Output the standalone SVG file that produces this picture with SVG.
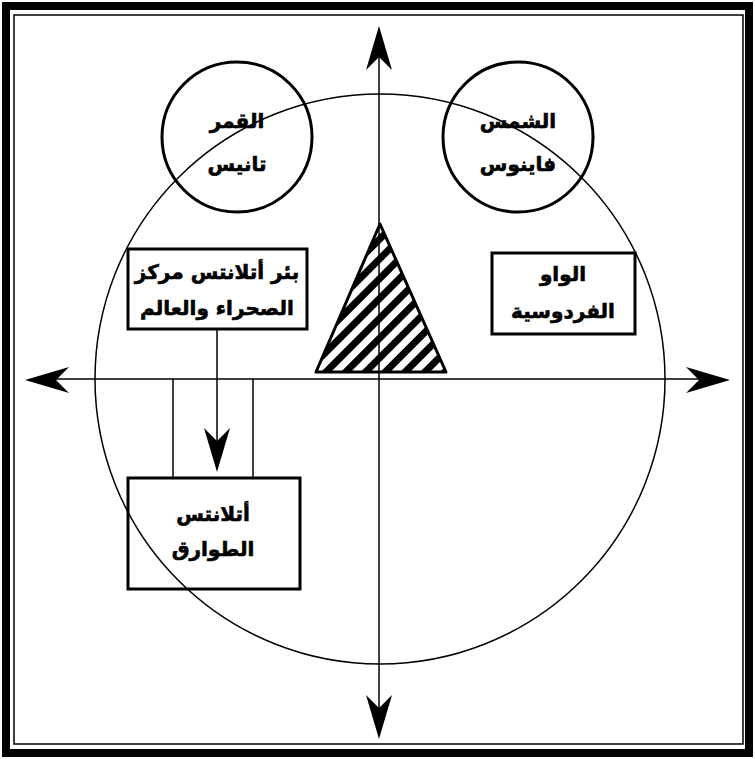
<svg xmlns="http://www.w3.org/2000/svg" xmlns:xlink="http://www.w3.org/1999/xlink" width="755" height="759" viewBox="0 0 755 759">
<style>
.lbl{font-family:"DejaVu Sans",sans-serif;font-weight:bold;font-size:20px;fill:#000;stroke:#000;stroke-width:0.6;text-anchor:middle;dominant-baseline:middle}
.box{fill:none;stroke:#000;stroke-width:3}
.circ{fill:none;stroke:#000;stroke-width:3}
.thin{fill:none;stroke:#000;stroke-width:1.5}
</style>
<defs>
<path id="ah" d="M0,0 L13,44 L0,31 L-13,44 Z" fill="#000"/>
<pattern id="hatch" patternUnits="userSpaceOnUse" width="14" height="14" patternTransform="rotate(-45)">
<rect x="0" y="0" width="14" height="14" fill="#fff"/>
<rect x="0" y="0" width="14" height="7" fill="#000"/>
</pattern>
</defs>
<rect x="0" y="0" width="755" height="759" fill="#fff"/>
<g id="frame">
<rect x="6" y="6" width="743" height="747" fill="none" stroke="#000" stroke-width="8"/>
<rect x="14" y="15" width="729" height="729" fill="none" stroke="#000" stroke-width="1.5"/>
</g>
<g id="triangle">
<polygon points="380,224 316,372 446,372" fill="url(#hatch)" stroke="#000" stroke-width="3" stroke-linejoin="round"/>
</g>
<g id="moon">
<circle cx="237" cy="137" r="75" class="circ"/>
<text x="237" y="122" class="lbl">القمر</text>
<text x="237" y="165" class="lbl">تانيس</text>
</g>
<g id="sun">
<circle cx="518" cy="137" r="75" class="circ"/>
<text x="518" y="122" class="lbl">الشمس</text>
<text x="518" y="165" class="lbl">فاينوس</text>
</g>
<g id="well">
<rect x="128" y="249" width="179" height="80" class="box"/>
<text x="217" y="273" class="lbl">بئر أتلانتس مركز</text>
<text x="217" y="309" class="lbl">الصحراء والعالم</text>
</g>
<g id="oasis">
<rect x="492" y="253" width="143" height="81" class="box"/>
<text x="563" y="275" class="lbl">الواو</text>
<text x="563" y="312" class="lbl">الفردوسية</text>
</g>
<g id="tuareg">
<rect x="128" y="478" width="172" height="111" class="box"/>
<text x="213" y="515" class="lbl">أتلانتس</text>
<text x="213" y="550" class="lbl">الطوارق</text>
</g>
<g id="bigcircle"><circle cx="380" cy="379" r="285" class="thin"/></g>
<g id="connectors">
<line x1="379" y1="40" x2="379" y2="725" class="thin"/>
<line x1="40" y1="379" x2="715" y2="379" class="thin"/>
<use xlink:href="#ah" transform="translate(379,26)"/>
<use xlink:href="#ah" transform="translate(379,739) rotate(180)"/>
<use xlink:href="#ah" transform="translate(25,380) rotate(-90)"/>
<use xlink:href="#ah" transform="translate(730,380) rotate(90)"/>
<line x1="173" y1="379" x2="173" y2="478" class="thin"/>
<line x1="253" y1="379" x2="253" y2="478" class="thin"/>
<line x1="217" y1="330" x2="217" y2="460" class="thin"/>
<use xlink:href="#ah" transform="translate(217,472) rotate(180)"/>
</g>
</svg>
